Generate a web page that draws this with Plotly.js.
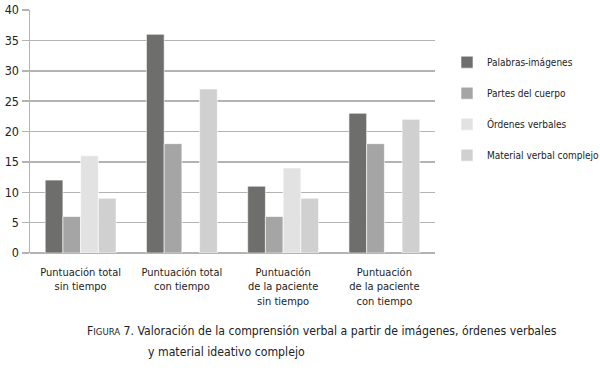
<!DOCTYPE html>
<html>
<head>
<meta charset="utf-8">
<script src="https://cdn.plot.ly/plotly-3.0.1.min.js"></script>
<style>html,body{margin:0;padding:0;background:#fff;}#chart{width:600px;height:378px;}</style>
</head>
<body>
<div id="chart"></div>
<script>
const categories = [
  "Puntuación total<br>sin tiempo",
  "Puntuación total<br>con tiempo",
  "Puntuación<br>de la paciente<br>sin tiempo",
  "Puntuación<br>de la paciente<br>con tiempo"
];
const seriesNames = ["Palabras-imágenes", "Partes del cuerpo", "Órdenes verbales", "Material verbal complejo"];
const palabrasImagenes = [12, 36, 11, 23];
const partesCuerpo = [6, 18, 6, 18];
const ordenesVerbales = [16, null, 14, null];
const materialVerbal = [9, 27, 9, 22];
const yTicks = [0, 5, 10, 15, 20, 25, 30, 35, 40];

const colors = ["#6e6e6c", "#a5a5a5", "#e2e2e2", "#d0d0d0"];
const values = [palabrasImagenes, partesCuerpo, ordenesVerbales, materialVerbal];
const FONT = "'DejaVu Sans Condensed', 'DejaVu Sans', sans-serif";
const mk = (size) => ({family: FONT, size: size, color: "#222222", stretch: "condensed"});

const data = values.map((v, i) => ({
  type: "bar",
  x: categories,
  y: v,
  name: seriesNames[i],
  legendgroup: "g" + i,
  marker: {color: colors[i], line: {color: "#ffffff", width: 0.6}}
}));

const layout = {
  width: 600, height: 378,
  margin: {l: 30, r: 165, t: 10, b: 125},
  paper_bgcolor: "#fff", plot_bgcolor: "#fff",
  font: mk(12),
  barmode: "group",
  bargap: 0.30,
  bargroupgap: 0,
  showlegend: true,
  legend: {
    xref: "container", yref: "container",
    x: 0.745, xanchor: "left",
    y: 0.874, yanchor: "top",
    font: mk(10),
    tracegroupgap: 12,
    traceorder: "grouped",
    itemwidth: 30
  },
  xaxis: {
    type: "category",
    showgrid: false,
    showline: false,
    ticks: "",
    tickangle: 0,
    ticklabelstandoff: 11,
    tickfont: mk(11)
  },
  yaxis: {
    range: [0, 40],
    tickvals: yTicks,
    ticktext: yTicks.map(String),
    showgrid: true,
    gridcolor: "#b3b3b3",
    gridwidth: 1.5,
    zeroline: true,
    zerolinecolor: "#b3b3b3",
    zerolinewidth: 1.5,
    showline: true,
    linecolor: "#b3b3b3",
    linewidth: 1.5,
    ticks: "outside",
    ticklen: 7,
    tickcolor: "#b3b3b3",
    tickwidth: 1.5,
    tickfont: mk(12.5)
  },
  annotations: [
    {
      xref: "paper", yref: "paper", x: 0.136, y: -0.322, xanchor: "left", yanchor: "middle",
      text: "F<span style='font-size:9.5px'>IGURA</span> 7. Valoración de la comprensión verbal a partir de imágenes, órdenes verbales",
      showarrow: false, font: mk(12.2)
    },
    {
      xref: "paper", yref: "paper", x: 0.286, y: -0.407, xanchor: "left", yanchor: "middle",
      text: "y material ideativo complejo",
      showarrow: false, font: mk(12.2)
    }
  ]
};

Plotly.newPlot("chart", data, layout, {displayModeBar: false, staticPlot: true});
</script>
</body>
</html>
